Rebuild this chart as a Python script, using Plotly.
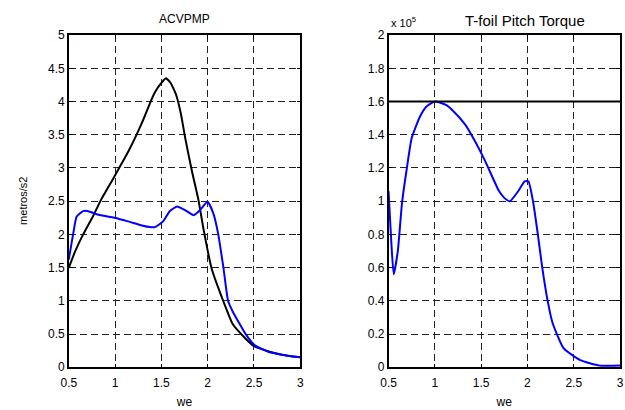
import plotly.graph_objects as go

# Left panel: ACVPMP (metros/s2)
we_black = [0.5, 0.567, 0.655, 0.76, 0.848, 0.988, 1.06, 1.147, 1.235, 1.305, 1.375, 1.43, 1.5, 1.55, 1.6, 1.657, 1.71, 1.76, 1.83, 1.9, 1.955, 2.04, 2.1, 2.17, 2.27, 2.41, 2.5, 2.66, 2.8, 3.0]
acv_black = [1.5, 1.74, 2.0, 2.27, 2.52, 2.86, 3.04, 3.26, 3.51, 3.73, 3.97, 4.14, 4.28, 4.35, 4.28, 4.11, 3.82, 3.43, 2.95, 2.52, 2.08, 1.5, 1.25, 0.99, 0.65, 0.43, 0.32, 0.24, 0.19, 0.15]

we_blue = [0.5, 0.55, 0.585, 0.655, 0.71, 0.81, 0.99, 1.13, 1.3, 1.375, 1.43, 1.52, 1.59, 1.67, 1.75, 1.85, 1.92, 1.998, 2.06, 2.11, 2.17, 2.22, 2.27, 2.41, 2.51, 2.66, 2.8, 3.0]
acv_blue = [1.62, 2.03, 2.27, 2.35, 2.35, 2.3, 2.25, 2.2, 2.13, 2.11, 2.11, 2.2, 2.35, 2.42, 2.37, 2.29, 2.37, 2.49, 2.32, 2.03, 1.5, 1.0, 0.84, 0.5, 0.33, 0.23, 0.19, 0.15]

# Right panel: T-foil Pitch Torque (x 10^5)
we_torque = [0.5, 0.53, 0.556, 0.6, 0.645, 0.698, 0.75, 0.84, 0.91, 1.0, 1.12, 1.19, 1.33, 1.44, 1.545, 1.69, 1.75, 1.81, 1.9, 1.97, 2.01, 2.06, 2.11, 2.16, 2.22, 2.27, 2.39, 2.57, 2.78, 3.0]
torque = [1.06, 0.75, 0.56, 0.7, 0.987, 1.2, 1.38, 1.51, 1.57, 1.6, 1.58, 1.548, 1.46, 1.355, 1.24, 1.064, 1.02, 1.0, 1.06, 1.12, 1.12, 1.0, 0.81, 0.6, 0.395, 0.27, 0.115, 0.043, 0.01, 0.01]
torque_limit = 1.6

x_ticks = [0.5, 1, 1.5, 2, 2.5, 3]
x_ticktext = ["0.5", "1", "1.5", "2", "2.5", "3"]
left_yticks = [0, 0.5, 1, 1.5, 2, 2.5, 3, 3.5, 4, 4.5, 5]
left_yticktext = ["0", "0.5", "1", "1.5", "2", "2.5", "3", "3.5", "4", "4.5", "5"]
right_yticks = [0, 0.2, 0.4, 0.6, 0.8, 1, 1.2, 1.4, 1.6, 1.8, 2]
right_yticktext = ["0", "0.2", "0.4", "0.6", "0.8", "1", "1.2", "1.4", "1.6", "1.8", "2"]

FONT = "Liberation Sans, Arial, sans-serif"

fig = go.Figure()
fig.add_trace(go.Scatter(x=we_black, y=acv_black, mode="lines", line=dict(color="black", width=2, shape="spline", smoothing=0.4), xaxis="x", yaxis="y", showlegend=False))
fig.add_trace(go.Scatter(x=we_blue, y=acv_blue, mode="lines", line=dict(color="#0000ff", width=2, shape="spline", smoothing=0.5), xaxis="x", yaxis="y", showlegend=False))
fig.add_trace(go.Scatter(x=we_torque, y=torque, mode="lines", line=dict(color="#0000ff", width=2, shape="spline", smoothing=0.5), xaxis="x2", yaxis="y2", showlegend=False))

fig.add_shape(type="line", xref="x2 domain", yref="y2", x0=0, x1=1, y0=torque_limit, y1=torque_limit, line=dict(color="black", width=2))

axis_common = dict(
    showline=True, linecolor="black", linewidth=1.5, mirror="ticks",
    ticks="inside", ticklen=4, tickcolor="black",
    showgrid=True, gridcolor="#222222", gridwidth=1, griddash="7px,4px",
    zeroline=False, tickfont=dict(family=FONT, size=12, color="black"),
)

xtitle = dict(text="we", font=dict(family=FONT, size=12, color="black"), standoff=8)

fig.update_layout(
    width=625, height=410,
    margin=dict(l=0, r=0, t=0, b=0),
    paper_bgcolor="white", plot_bgcolor="white",
    xaxis=dict(domain=[0.0992, 0.4768], range=[0.5, 3], tickvals=x_ticks, ticktext=x_ticktext,
               ticklabelstandoff=4, title=xtitle, anchor="y", **axis_common),
    yaxis=dict(domain=[0.0902, 0.929], range=[0, 5], tickvals=left_yticks, ticktext=left_yticktext,
               anchor="x", **axis_common),
    xaxis2=dict(domain=[0.6208, 0.9984], range=[0.5, 3], tickvals=x_ticks, ticktext=x_ticktext,
                ticklabelstandoff=4, title=xtitle, anchor="y2", **axis_common),
    yaxis2=dict(domain=[0.0902, 0.929], range=[0, 2], tickvals=right_yticks, ticktext=right_yticktext,
                anchor="x2", **axis_common),
    annotations=[
        dict(text="ACVPMP", xref="x domain", yref="paper", x=0.5, y=1 - 12/410, yanchor="middle",
             showarrow=False, font=dict(family=FONT, size=12, color="black")),
        dict(text="T-foil Pitch Torque", xref="x2 domain", yref="paper", x=0.59, y=1 - 14/410, yanchor="middle",
             showarrow=False, font=dict(family=FONT, size=15, color="black")),
        dict(text="x 10<sup>5</sup>", xref="x2 domain", yref="paper", x=0.0, y=1 - 16/410, xanchor="left", yanchor="middle",
             showarrow=False, font=dict(family=FONT, size=11, color="black")),
        dict(text="metros/s2", xref="paper", yref="y domain", x=16/625, y=0.5, xanchor="center", yanchor="middle",
             textangle=-90, showarrow=False, font=dict(family=FONT, size=11, color="black")),
    ],
)

fig.write_html("out.html")
